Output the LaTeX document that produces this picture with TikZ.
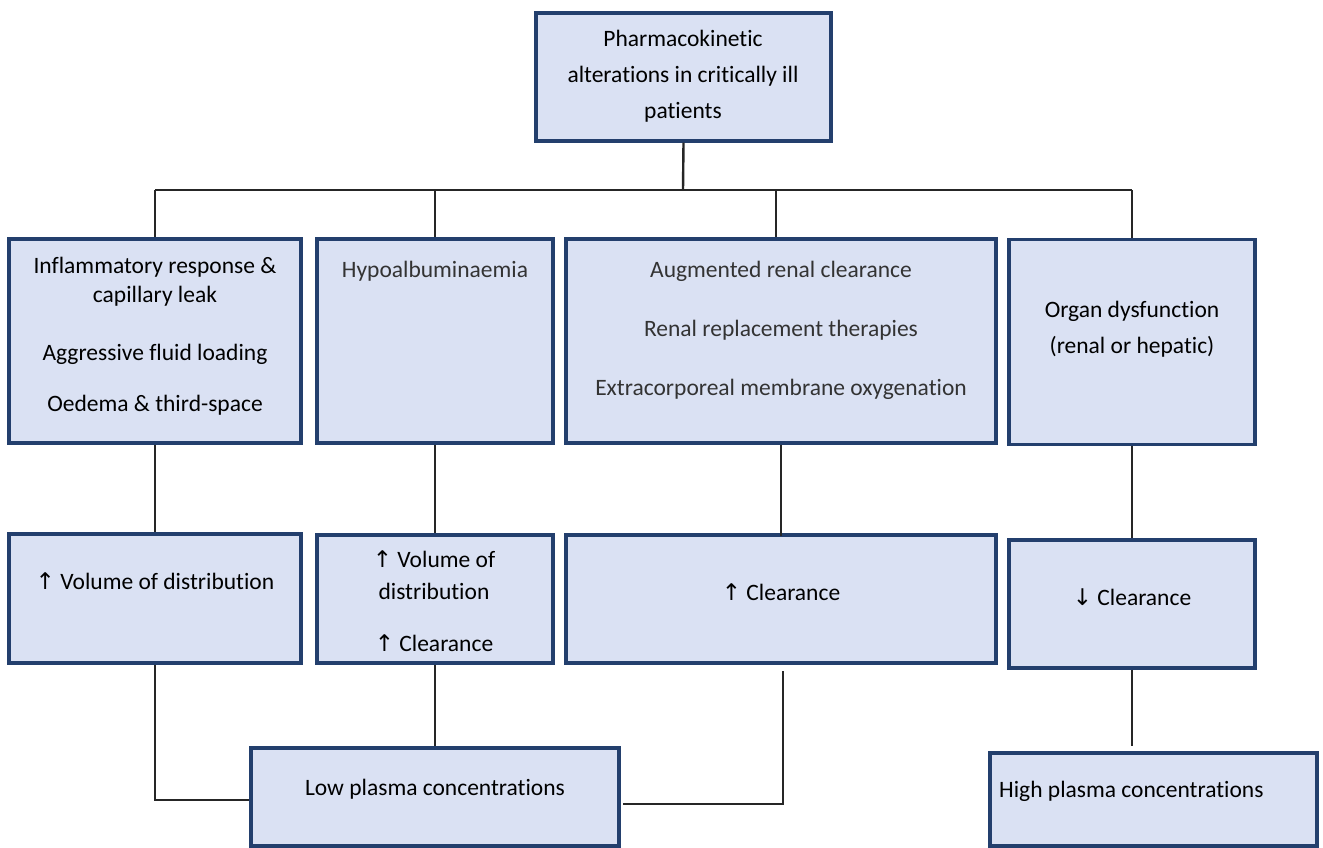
\documentclass[tikz,border=0pt]{standalone}
\usepackage{fontspec}
\setmainfont{Carlito}[Ligatures=NoCommon]
\newfontfamily\arrfont{DejaVu Sans}
\definecolor{boxfill}{HTML}{DAE1F3}
\definecolor{boxline}{HTML}{233F6D}
\definecolor{connc}{HTML}{262626}
\newcommand{\uparr}{{\arrfont\fontsize{23}{26}\selectfont ↑}}
\newcommand{\dnarr}{{\arrfont\fontsize{23}{26}\selectfont ↓}}
\begin{document}
\begin{tikzpicture}[x=1pt,y=-1pt,
  box/.style={draw=boxline, fill=boxfill, line width=3.2pt, inner sep=0pt, rectangle},
  txt/.style={anchor=base, inner sep=0pt, font=\fontsize{23.5}{28}\selectfont},
  lt/.style={txt, text=black!80},
  conn/.style={draw=connc, line width=1.3pt}]

\useasboundingbox (0,0) rectangle (1323,848);

% boxes
\node[box, minimum width=295pt, minimum height=128pt] (top) at (683.5,77) {};
\node[box, minimum width=292pt, minimum height=204pt] (r1a) at (155,341) {};
\node[box, minimum width=236pt, minimum height=204pt] (r1b) at (435,341) {};
\node[box, minimum width=430pt, minimum height=204pt] (r1c) at (781,341) {};
\node[box, minimum width=246pt, minimum height=205pt] (r1d) at (1132,342) {};
\node[box, minimum width=292pt, minimum height=129pt] (r2a) at (155,598.5) {};
\node[box, minimum width=236pt, minimum height=128pt] (r2b) at (435,599) {};
\node[box, minimum width=430pt, minimum height=128pt] (r2c) at (781,599) {};
\node[box, minimum width=246pt, minimum height=128pt] (r2d) at (1132,604) {};
\node[box, minimum width=368pt, minimum height=98pt] (low) at (435,797) {};
\node[box, minimum width=327pt, minimum height=93pt] (high) at (1153.5,799.5) {};

% texts
\node[txt] (t0a) at (683,47) {Pharmacokinetic};
\node[txt] (t0b) at (683,83) {alterations in critically ill};
\node[txt] (t0c) at (683,119) {patients};

\node[txt] (t1a) at (155,273) {Inflammatory response \&};
\node[txt] (t1b) at (155,302) {capillary leak};
\node[txt] (t1c) at (155,360) {Aggressive fluid loading};
\node[txt] (t1d) at (155,411) {Oedema \& third-space};

\node[lt] (t2a) at (435,277) {Hypoalbuminaemia};

\node[lt] (t3a) at (781,277) {Augmented renal clearance};
\node[lt] (t3b) at (781,336) {Renal replacement therapies};
\node[lt] (t3c) at (781,395) {Extracorporeal membrane oxygenation};

\node[txt] (t4a) at (1132,317) {Organ dysfunction};
\node[txt] (t4b) at (1132,353) {(renal or hepatic)};

\node[txt] (u1a) at (155,589) {\uparr\ Volume of distribution};
\node[txt] (u2a) at (434,567) {\uparr\ Volume of};
\node[txt] (u2b) at (434,599) {distribution};
\node[txt] (u2c) at (434,651) {\uparr\ Clearance};
\node[txt] (u3a) at (781,600) {\uparr\ Clearance};
\node[txt] (u4a) at (1132,605) {\dnarr\ Clearance};

\node[txt] (lowt) at (435,795) {Low plasma concentrations};
\node[txt, anchor=base west] (hight) at (999,797) {High plasma concentrations};

% connectors
\coordinate (bus) at (683,190);
\coordinate (j1) at (155,190);
\coordinate (j2) at (435,190);
\coordinate (j3) at (776,190);
\coordinate (j4) at (1132,190);
\coordinate (rc) at (783,671);
\coordinate (hj) at (1132,746);

\draw[conn, line width=2.4pt] (top.south) -- (bus);
\draw[conn] (j1) -- (j4);
\draw[conn] (j1) -- (r1a.north);
\draw[conn] (j2) -- (r1b.north);
\draw[conn] (j3) -- (j3 |- r1c.north);
\draw[conn] (j4) -- (r1d.north);

\draw[conn] (r1a.south) -- (r2a.north);
\draw[conn] (r1b.south) -- (r2b.north);
\draw[conn] (r1c.south) -- ([yshift=-3pt]r2c.north);
\draw[conn] (r1d.south) -- (r2d.north);

\draw[conn] (r2a.south) |- ([yshift=-3pt]low.west);
\draw[conn] (r2b.south) -- (low.north);
\draw[conn] (rc) |- ([yshift=-7pt,xshift=2pt]low.east);
\draw[conn] (r2d.south) -- (hj);
\end{tikzpicture}
\end{document}
